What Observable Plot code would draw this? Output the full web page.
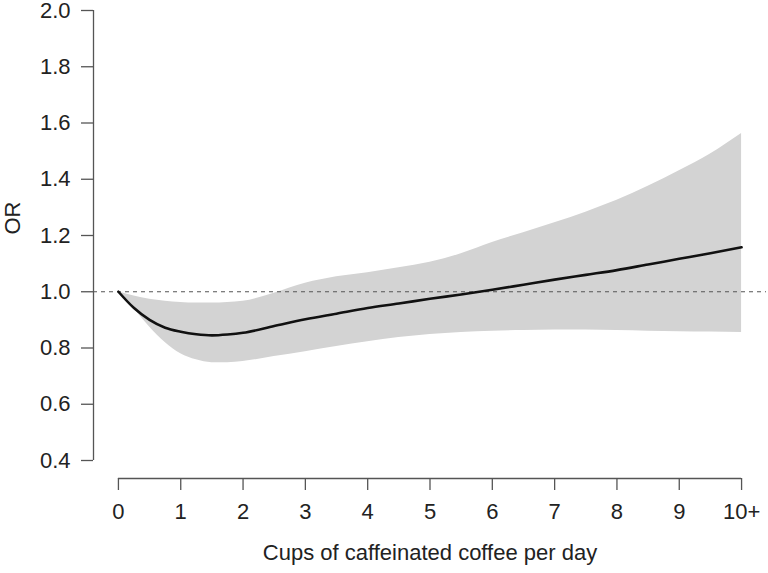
<!DOCTYPE html>
<html>
<head>
<meta charset="utf-8">
<script src="https://cdn.jsdelivr.net/npm/d3@7"></script>
<script src="https://cdn.jsdelivr.net/npm/@observablehq/plot@0.6"></script>
<style>
  html, body { margin: 0; padding: 0; background: #fff; }
  #chart { width: 768px; height: 573px; }
  #chart svg { overflow: visible; }
</style>
</head>
<body>
<div id="chart"></div>
<script>
// Cups of caffeinated coffee per day (10 = "10+")
const cups   = [0, 0.25, 0.5, 0.75, 1, 1.25, 1.5, 1.75, 2, 2.5, 3, 3.5, 4, 4.5, 5, 5.5, 6, 6.5, 7, 7.5, 8, 8.5, 9, 9.5, 10];
// Odds ratio estimate
const orEst  = [1.0, 0.942, 0.900, 0.872, 0.858, 0.849, 0.845, 0.848, 0.854, 0.878, 0.902, 0.922, 0.942, 0.958, 0.975, 0.990, 1.007, 1.025, 1.043, 1.060, 1.077, 1.097, 1.117, 1.137, 1.158];
// Lower confidence bound
const orLow  = [1.0, 0.94, 0.875, 0.82, 0.78, 0.758, 0.748, 0.748, 0.752, 0.77, 0.787, 0.805, 0.822, 0.837, 0.848, 0.855, 0.86, 0.862, 0.864, 0.864, 0.862, 0.86, 0.858, 0.857, 0.855];
// Upper confidence bound
const orHigh = [1.0, 0.985, 0.973, 0.966, 0.962, 0.960, 0.960, 0.962, 0.966, 0.995, 1.03, 1.053, 1.068, 1.085, 1.105, 1.135, 1.175, 1.21, 1.245, 1.283, 1.325, 1.375, 1.43, 1.49, 1.563];

const xTicks  = [0, 1, 2, 3, 4, 5, 6, 7, 8, 9, 10];
const xLabels = ["0", "1", "2", "3", "4", "5", "6", "7", "8", "9", "10+"];
const yTicks  = [0.4, 0.6, 0.8, 1.0, 1.2, 1.4, 1.6, 1.8, 2.0];
const refOR = 1.0;
const xTitle = "Cups of caffeinated coffee per day";
const yTitle = "OR";

const data = cups.map((c, i) => ({cups: c, est: orEst[i], low: orLow[i], high: orHigh[i]}));

const axisColor = "#555";
const font = "'Liberation Sans', Arial, Helvetica, sans-serif";

const chart = Plot.plot({
  width: 768,
  height: 573,
  marginLeft: 93,
  marginRight: 2,
  marginTop: 10,
  marginBottom: 95,
  style: {fontFamily: font, fontSize: "22px", color: "#222", background: "#fff", overflow: "visible"},
  x: {domain: [-0.4, 10.4], axis: null},
  y: {domain: [0.336, 2.0], axis: null},
  marks: [
    Plot.areaY(data, {x: "cups", y1: "low", y2: "high", fill: "#d3d3d3", curve: "monotone-x"}),
    Plot.ruleY([refOR], {stroke: axisColor, strokeWidth: 1.2, strokeDasharray: "4,4"}),
    Plot.lineY(data, {x: "cups", y: "est", stroke: "#111", strokeWidth: 2.6, curve: "monotone-x"}),
    // axis lines
    Plot.ruleX([-0.4], {y1: yTicks[0], y2: yTicks[yTicks.length - 1], stroke: axisColor, strokeWidth: 1.3}),
    Plot.ruleY([0.336], {x1: xTicks[0], x2: xTicks[xTicks.length - 1], stroke: axisColor, strokeWidth: 1.3}),
    Plot.axisY({ticks: yTicks, tickSize: 12, tickPadding: 11, tickFormat: d3.format(".1f"), label: null, stroke: axisColor, strokeWidth: 1.3, fontSize: 22}),
    Plot.axisX({ticks: xTicks, tickSize: 12, tickPadding: 13, tickFormat: (d) => xLabels[xTicks.indexOf(d)], label: null, stroke: axisColor, strokeWidth: 1.3, fontSize: 22}),
    Plot.text([xTitle], {frameAnchor: "bottom", dy: 81, fontSize: 22, fill: "#222"}),
    Plot.text([yTitle], {frameAnchor: "left", rotate: -90, dx: -81, dy: -10, fontSize: 22, fill: "#222"})
  ]
});
document.getElementById("chart").appendChild(chart);
</script>
</body>
</html>
